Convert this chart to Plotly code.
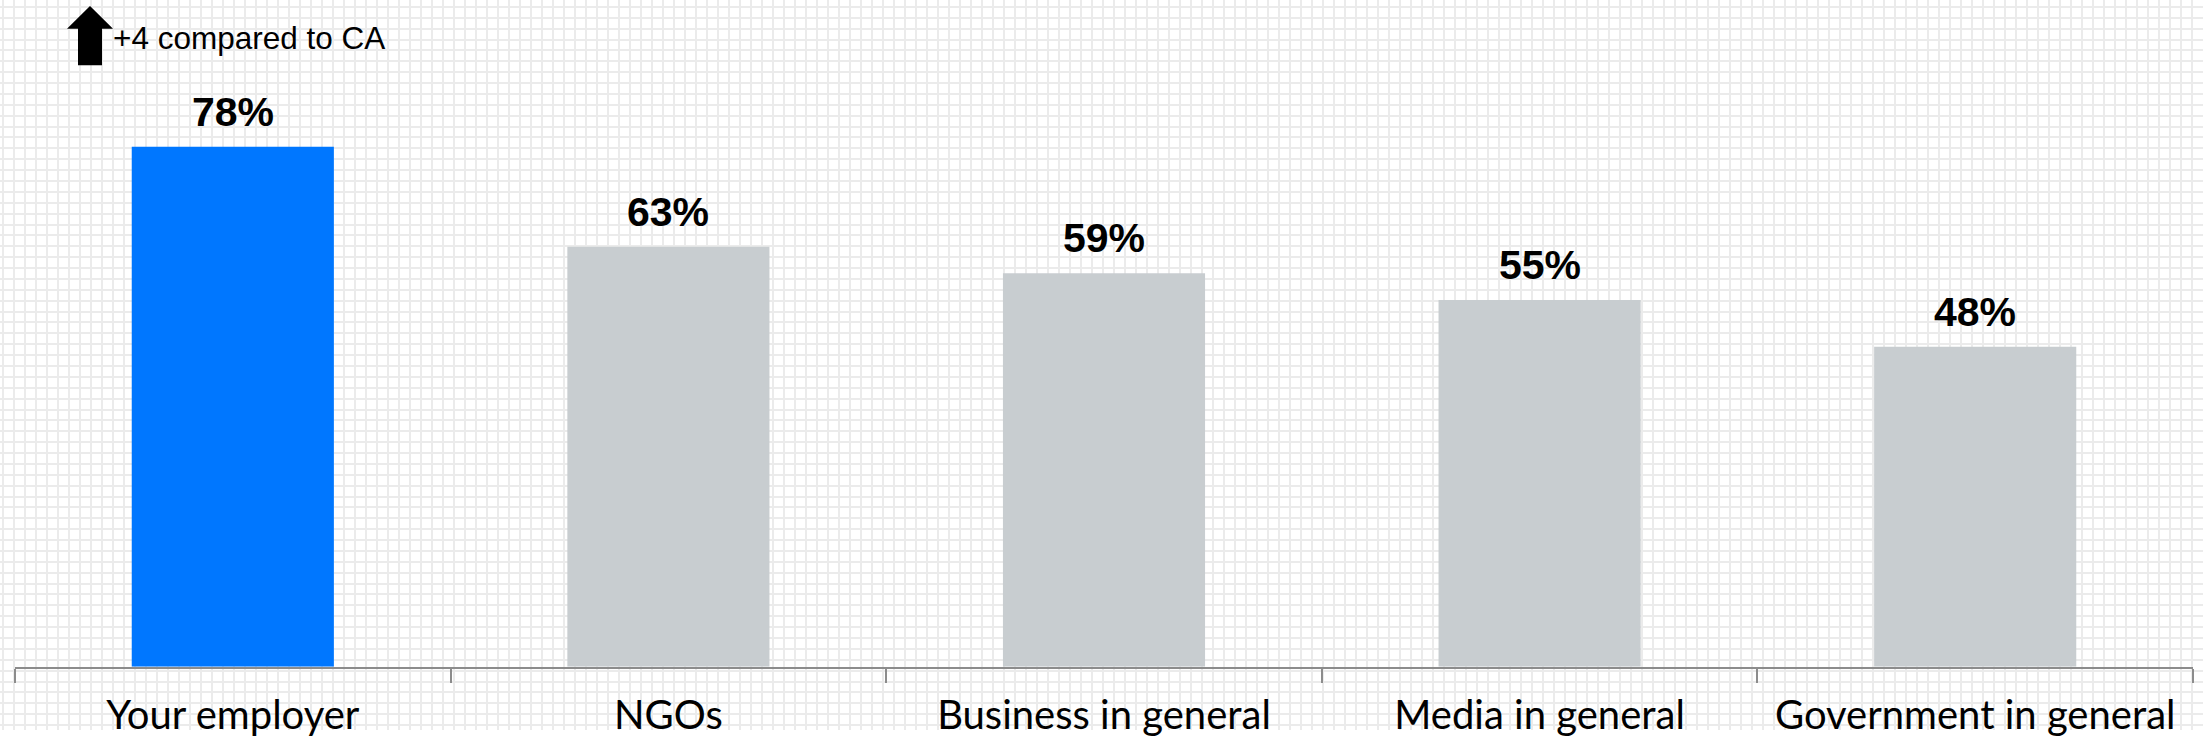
import plotly.graph_objects as go

categories = ["Your employer", "NGOs", "Business in general", "Media in general", "Government in general"]
values = [78, 63, 59, 55, 48]
bar_colors = ["#0077FF", "#C8CDD0", "#C8CDD0", "#C8CDD0", "#C8CDD0"]
value_labels = [f"<b>{v}%</b>" for v in values]
note_text = "+4 compared to CA"

W, H = 2203, 738
AXIS_Y = 674      # page y of the category axis
PLOT_L, PLOT_R = 15, 2193

fig = go.Figure()

# background grid subplot (coordinates = page pixels)
fig.add_trace(go.Scatter(x=[1], y=[1], mode="markers", marker=dict(opacity=0),
                         hoverinfo="skip", showlegend=False, xaxis="x", yaxis="y"))

fig.add_trace(go.Bar(x=categories, y=values, marker=dict(color=bar_colors, line=dict(width=0)),
                     xaxis="x2", yaxis="y2", showlegend=False, hoverinfo="skip"))

annotations = []
for c, v, t in zip(categories, values, value_labels):
    annotations.append(dict(x=c, y=v, xref="x2", yref="y2", text=t, showarrow=False,
                            yanchor="bottom", yshift=10,
                            font=dict(family="Liberation Sans", size=41, color="#000000")))
annotations.append(dict(x=111, y=38, xref="x", yref="y", text=note_text, showarrow=False,
                        xanchor="left", yanchor="middle",
                        font=dict(family="Liberation Sans", size=31.5, color="#000000")))

# block arrow (page-pixel coordinates on the background axis)
arrow_path = "M 90 6 L 113 29 L 102 29 L 102 66 L 78 66 L 78 29 L 67 29 Z"

fig.update_layout(
    width=W, height=H,
    margin=dict(l=0, r=0, t=0, b=0),
    paper_bgcolor="white",
    plot_bgcolor="rgba(0,0,0,0)",
    bargap=0.536,
    annotations=annotations,
    shapes=[dict(type="path", path=arrow_path, xref="x", yref="y",
                 fillcolor="#000000", line=dict(width=0))],
    xaxis=dict(domain=[0, 1], range=[0, W], tick0=3, dtick=11, showgrid=True,
               gridcolor="#ebebeb", gridwidth=2, showticklabels=False, zeroline=False,
               showline=False, ticks="", fixedrange=True),
    yaxis=dict(domain=[0, 1], range=[H, 0], tick0=7, dtick=11, showgrid=True,
               gridcolor="#ebebeb", gridwidth=2, showticklabels=False, zeroline=False,
               showline=False, ticks="", fixedrange=True),
    xaxis2=dict(domain=[PLOT_L / W, PLOT_R / W], anchor="y2", type="category",
                showline=True, linecolor="#8c8c8c", linewidth=2,
                ticks="outside", tickson="boundaries", ticklen=14, tickwidth=2,
                tickcolor="#8c8c8c", showgrid=False, zeroline=False,
                ticklabelstandoff=12,
                tickfont=dict(family="Lato", size=40, color="#000000")),
    yaxis2=dict(domain=[(H - AXIS_Y) / H, 1], anchor="x2", range=[0, 100], visible=False),
)

fig.write_html("out.html", config={"displayModeBar": False},
               post_script="document.body.style.margin='0';document.body.style.overflow='hidden';")
